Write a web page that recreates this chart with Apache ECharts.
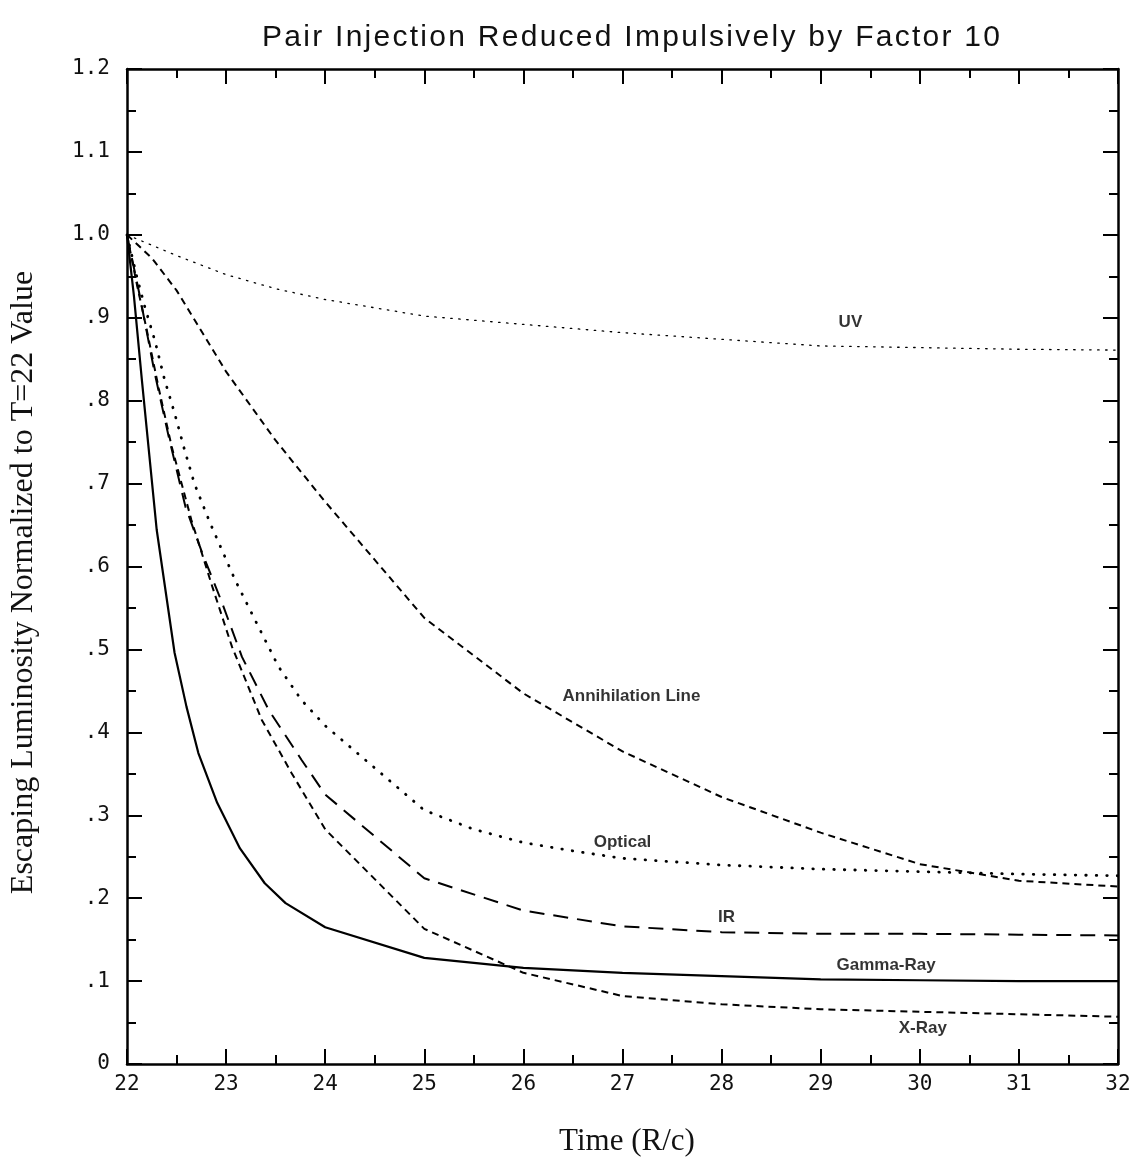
<!DOCTYPE html>
<html>
<head>
<meta charset="utf-8">
<script src="https://cdn.jsdelivr.net/npm/echarts@6/dist/echarts.min.js"></script>
<style>
html,body{margin:0;padding:0;background:#fff;}
#c{width:1140px;height:1163px;}
</style>
</head>
<body>
<div id="c"></div>
<script>
// ---- data (time in R/c, luminosity normalized to T=22) ----
var uv = [[22,1.0],[22.5,0.975],[23,0.952],[23.5,0.935],[24,0.922],[24.5,0.912],[25,0.902],[26,0.892],[27,0.882],[28,0.874],[29,0.866],[30,0.864],[31,0.862],[32,0.861]];
var annihilation = [[22,1.0],[22.25,0.972],[22.5,0.933],[23,0.835],[23.5,0.752],[24,0.678],[25,0.538],[26,0.447],[27,0.377],[28,0.322],[29,0.279],[30,0.241],[31,0.221],[32,0.214]];
var optical = [[22,1.0],[22.1,0.949],[22.18,0.913],[22.28,0.873],[22.38,0.825],[22.48,0.785],[22.58,0.741],[22.68,0.70],[22.84,0.652],[23.09,0.584],[23.29,0.536],[23.53,0.479],[23.76,0.439],[24,0.408],[25,0.306],[25.5,0.283],[26,0.267],[26.5,0.257],[27,0.248],[28,0.24],[29,0.235],[30,0.232],[31,0.229],[32,0.227]];
var ir = [[22,1.0],[22.13,0.926],[22.28,0.833],[22.42,0.757],[22.59,0.672],[22.76,0.616],[22.96,0.556],[23.16,0.491],[23.43,0.427],[23.76,0.367],[24,0.325],[25,0.224],[26,0.185],[27,0.166],[28,0.159],[29,0.157],[30,0.157],[31,0.156],[32,0.155]];
var xray = [[22,1.0],[22.1,0.94],[22.2,0.885],[22.32,0.815],[22.45,0.745],[22.65,0.656],[22.86,0.576],[23.06,0.503],[23.36,0.415],[23.66,0.351],[24,0.283],[25,0.163],[26,0.11],[27,0.082],[28,0.072],[29,0.066],[30,0.063],[31,0.06],[32,0.057]];
var gammaRay = [[22,1.0],[22.07,0.926],[22.15,0.825],[22.3,0.644],[22.48,0.496],[22.6,0.431],[22.72,0.375],[22.91,0.315],[23.14,0.26],[23.39,0.218],[23.6,0.194],[24,0.165],[25,0.128],[26,0.116],[27,0.11],[28,0.106],[29,0.102],[30,0.101],[31,0.1],[32,0.1]];
var curveLabels = [
  ['UV', 29.30, 0.895],
  ['Annihilation Line', 27.09, 0.443],
  ['Optical', 27.0, 0.267],
  ['IR', 28.05, 0.177],
  ['Gamma-Ray', 29.66, 0.119],
  ['X-Ray', 30.03, 0.043]
];
var xMin = 22, xMax = 32, xStep = 1;
var yMin = 0, yMax = 1.2, yStep = 0.1;
var titleText = 'Pair Injection Reduced Impulsively by Factor 10';
var xName = 'Time (R/c)';
var yName = 'Escaping Luminosity Normalized to T=22 Value';

// ---- title laid out with the reference's slightly wide letter spacing ----
var titleFont = {size:30, family:'Liberation Sans'};
var titleLeft = 262, titleWidth = 738, titleTop = 23;
function titleGraphics(){
  var ctx = document.createElement('canvas').getContext('2d');
  ctx.font = titleFont.size + 'px "' + titleFont.family + '"';
  var chars = titleText.split('');
  var widths = chars.map(function(ch){ return ctx.measureText(ch).width; });
  var total = widths.reduce(function(a,b){ return a+b; }, 0);
  var gap = (titleWidth - total) / (chars.length - 1);
  var out = [], x = titleLeft;
  chars.forEach(function(ch, i){
    if (ch !== ' ') {
      out.push({type:'text', x:x, y:titleTop, silent:true,
        style:{text:ch, fontFamily:titleFont.family, fontSize:titleFont.size, fill:'#111', textVerticalAlign:'top'}});
    }
    x += widths[i] + gap;
  });
  return out;
}

// ---- chart ----
var chart = echarts.init(document.getElementById('c'));
var axisLineStyle = {color:'#000', width:2.5};
var tickFont = {fontFamily:'DejaVu Sans Mono', fontSize:21, color:'#111'};
function yFmt(v){
  if (Math.abs(v) < 1e-9) return '0';
  var s = v.toFixed(1);
  return v < 1 ? s.slice(1) : s;
}
function xAxisDef(pos, showLabel){
  return {
    type:'value', position:pos, min:xMin, max:xMax, interval:xStep,
    axisLine:{show:true, onZero:false, lineStyle:axisLineStyle},
    axisTick:{show:true, inside:true, length:15, lineStyle:{color:'#000', width:2}},
    minorTick:{show:true, splitNumber:2, length:9, lineStyle:{color:'#000', width:2}},
    splitLine:{show:false},
    axisLabel:Object.assign({show:showLabel, margin:10}, tickFont)
  };
}
function yAxisDef(pos, showLabel){
  return {
    type:'value', position:pos, min:yMin, max:yMax, interval:yStep,
    axisLine:{show:true, onZero:false, lineStyle:axisLineStyle},
    axisTick:{show:true, inside:true, length:15, lineStyle:{color:'#000', width:2}},
    minorTick:{show:true, splitNumber:2, length:9, lineStyle:{color:'#000', width:2}},
    splitLine:{show:false},
    axisLabel:Object.assign({show:showLabel, margin:17, formatter:yFmt}, tickFont)
  };
}
var xb = xAxisDef('bottom', true);
xb.name = xName; xb.nameLocation = 'middle'; xb.nameGap = 62;
xb.nameTextStyle = {fontFamily:'Liberation Serif', fontSize:31, color:'#111', padding:[0,0,0,9]};
var yl = yAxisDef('left', true);
yl.name = yName; yl.nameLocation = 'middle'; yl.nameGap = 87;
yl.nameTextStyle = {fontFamily:'Liberation Serif', fontSize:32, color:'#111', padding:[0,32,0,0]};

function lineSeries(name, data, width, type, cap){
  return {
    name:name, type:'line', data:data, xAxisIndex:0, yAxisIndex:0,
    showSymbol:false, symbol:'none', smooth:false, clip:true,
    lineStyle:{color:'#000', width:width, type:type, cap:cap||'butt'}
  };
}

chart.setOption({
  animation:false,
  backgroundColor:'#fff',
  grid:{left:125, right:22, top:69, bottom:99, containLabel:false},
  graphic:titleGraphics(),
  xAxis:[xb, xAxisDef('top', false)],
  yAxis:[yl, yAxisDef('right', false)],
  series:[
    lineSeries('UV', uv, 1.3, [1.5,6.5], 'round'),
    lineSeries('Annihilation Line', annihilation, 2, [7,5]),
    lineSeries('Optical', optical, 2.8, [0.5,10], 'round'),
    lineSeries('IR', ir, 2, [15,9]),
    lineSeries('X-Ray', xray, 2, [7,5]),
    lineSeries('Gamma-Ray', gammaRay, 2.2, 'solid'),
    {
      type:'scatter', xAxisIndex:0, yAxisIndex:0, symbolSize:0, silent:true,
      data:curveLabels.map(function(d){ return {name:d[0], value:[d[1], d[2]]}; }),
      label:{show:true, position:'inside', formatter:function(p){return p.name;},
        fontFamily:'Liberation Sans', fontWeight:'bold', fontSize:17, color:'#000'}
    }
  ]
});
</script>
</body>
</html>
